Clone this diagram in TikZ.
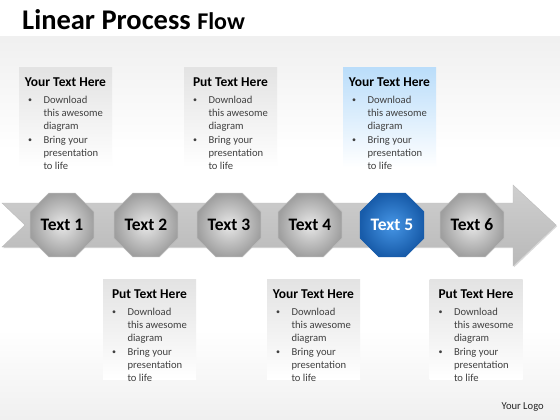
\documentclass[tikz,border=0pt]{standalone}
\usepackage{fontspec}
\setmainfont{Carlito}
\usetikzlibrary{shapes.geometric,positioning,shadows}
\definecolor{bodygray}{RGB}{64,64,64}
\definecolor{bluetop}{RGB}{186,221,250}
\definecolor{octblue}{RGB}{70,150,230}
\definecolor{octbluedark}{RGB}{24,92,170}

\newcommand{\dotmark}{\raisebox{0.6pt}{\fontsize{8}{8}\selectfont\textbullet}}
\newcommand{\boxlines}{%
  \begin{tabular}{@{}p{15.5pt}@{}l@{}}
    \dotmark & Download\\
             & this awesome\\
             & diagram\\
    \dotmark & Bring your\\
             & presentation\\
             & to life
  \end{tabular}}

\tikzset{
  octagon/.style={regular polygon, regular polygon sides=8, minimum size=69pt,
    inner sep=0pt, draw=gray!55, line width=0.6pt, inner color=gray!18,
    outer color=gray!75, font=\bfseries\fontsize{17.5}{20}\selectfont},
  blueoctagon/.style={octagon, draw=octbluedark, inner color=octblue,
    outer color=octbluedark, text=white},
  graybox/.style={rectangle, anchor=north, minimum width=93pt,
    minimum height=100pt, top color=gray!22, bottom color=white},
  bluebox/.style={graybox, top color=bluetop, bottom color=white},
  headtext/.style={inner sep=0pt, font=\bfseries\fontsize{13.5}{15}\selectfont},
  bodytext/.style={inner sep=0pt, text=bodygray,
    font=\fontsize{10.6}{13.2}\selectfont}
}

\begin{document}
\begin{tikzpicture}[x=1pt, y=-1pt]
\useasboundingbox (0,0) rectangle (560,420);
% background
\fill[white] (0,0) rectangle (560,420);
\shade[top color=gray!12, bottom color=white] (0,37) rectangle (560,150);
\shade[top color=white, bottom color=gray!12] (0,330) rectangle (560,420);

% title
\node[anchor=base west, inner sep=0pt, font=\bfseries] (title) at (22,29.5)
  {\fontsize{28.5}{31}\selectfont Linear Process \fontsize{24}{26}\selectfont Flow};

% text boxes
\foreach \n/\x/\y/\h/\s in {1/65.5/67/Your Text Here/graybox,
    2/230.5/67/Put Text Here/graybox, 3/389.5/67/Your Text Here/bluebox,
    4/149.5/279/Put Text Here/graybox, 5/313.5/279/Your Text Here/graybox,
    6/476/279/Put Text Here/graybox}{
  \node[\s] (box\n) at (\x,\y) {};
  \node[headtext, below=11pt of box\n.north] (head\n) {\h};
  \node[bodytext, below right=27pt and 9pt of box\n.north west] (body\n) {\boxlines};
}

% arrow
\shade[top color=gray!38, middle color=gray!3, bottom color=gray!55, draw=gray!50,
  drop shadow={opacity=0.3, shadow xshift=1.2pt, shadow yshift=-1.2pt}]
  (2,203) -- (513,203) -- (513,185) -- (556,225) -- (513,266) -- (513,247)
  -- (2,247) -- (25,225) -- cycle;

% steps
\foreach \n/\x in {1/62, 2/146, 3/229, 4/310, 6/472}
  \node[octagon] (step\n) at (\x,225) {Text \n};
\node[blueoctagon] (step5) at (392,225) {Text 5};

% logo
\node[anchor=base east, inner sep=0pt, text=black!85,
  font=\fontsize{10.6}{12}\selectfont] (logo) at (544,409.5) {Your Logo};
\end{tikzpicture}
\end{document}
